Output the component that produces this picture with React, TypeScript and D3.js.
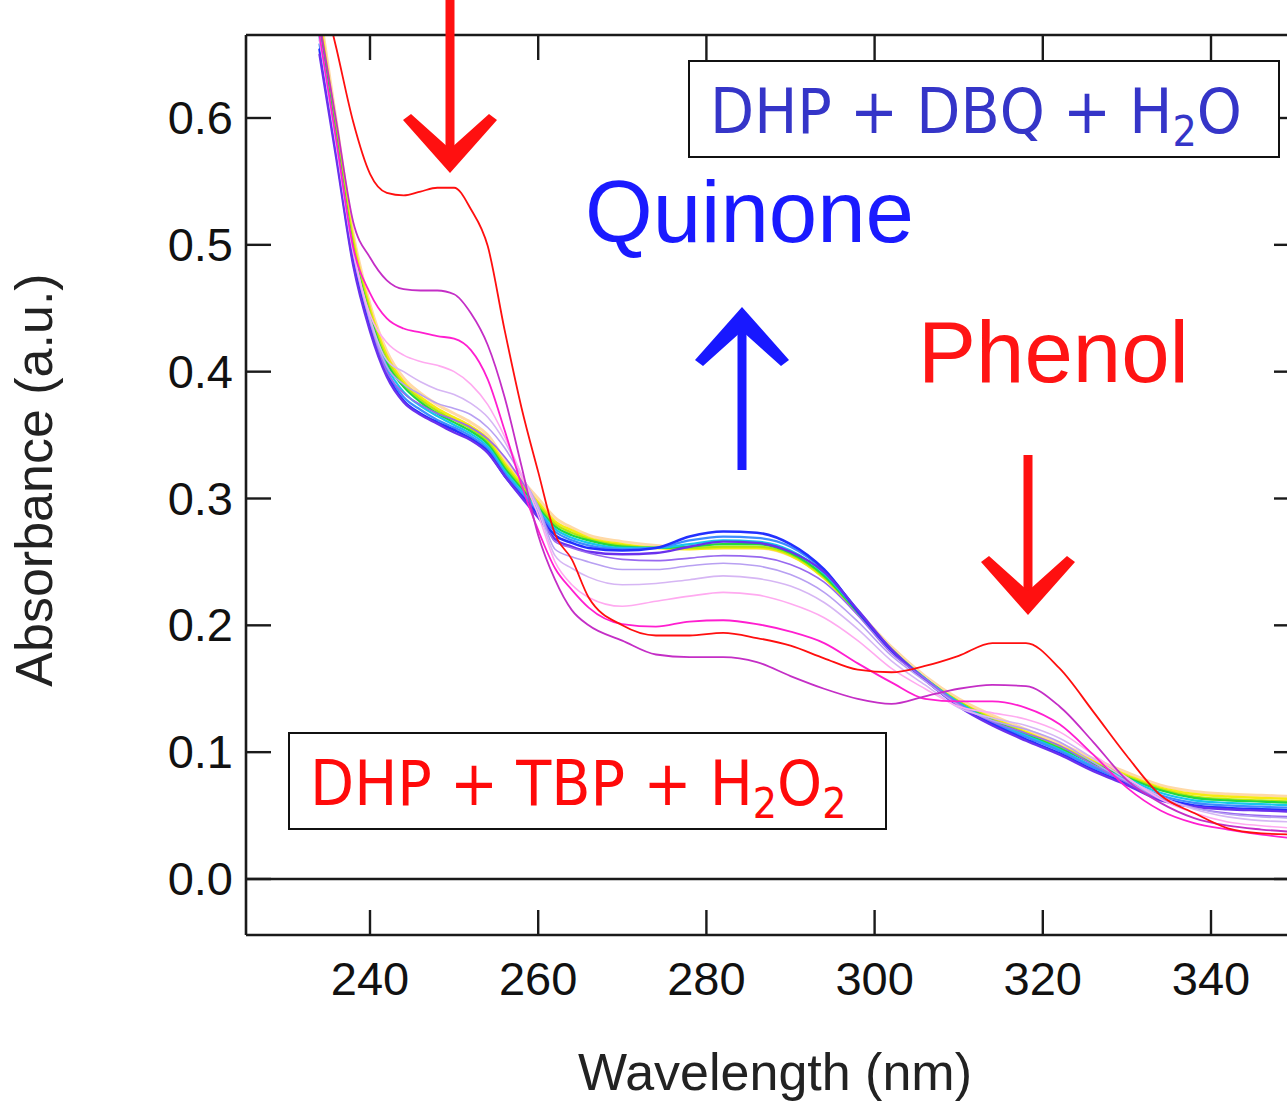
import React from 'react';
import * as d3 from 'd3';

// ---------- DATA ----------
const WAVELENGTHS = [234, 236, 238, 240, 242, 244, 246, 248, 250, 252, 254, 256, 258, 260, 262, 264, 266, 270, 274, 278, 282, 286, 290, 294, 298, 302, 306, 310, 314, 318, 322, 326, 330, 334, 338, 342, 346, 350];

const RED = [0.71, 0.655, 0.597, 0.556, 0.541, 0.539, 0.542, 0.545, 0.545, 0.528, 0.499, 0.433, 0.372, 0.321, 0.272, 0.252, 0.222, 0.200, 0.192, 0.192, 0.194, 0.190, 0.184, 0.174, 0.165, 0.163, 0.168, 0.176, 0.186, 0.186, 0.166, 0.132, 0.097, 0.066, 0.052, 0.040, 0.036, 0.035];
const DARK_MAGENTA = [0.675, 0.597, 0.518, 0.490, 0.472, 0.465, 0.464, 0.464, 0.461, 0.446, 0.421, 0.380, 0.326, 0.271, 0.236, 0.212, 0.200, 0.188, 0.177, 0.175, 0.175, 0.171, 0.160, 0.150, 0.142, 0.138, 0.144, 0.150, 0.153, 0.152, 0.136, 0.108, 0.078, 0.060, 0.048, 0.042, 0.039, 0.037];
const MAGENTA = [0.665, 0.582, 0.498, 0.462, 0.442, 0.434, 0.431, 0.428, 0.426, 0.417, 0.394, 0.354, 0.311, 0.275, 0.245, 0.228, 0.214, 0.201, 0.199, 0.203, 0.204, 0.201, 0.195, 0.186, 0.170, 0.155, 0.142, 0.140, 0.140, 0.135, 0.122, 0.098, 0.072, 0.054, 0.044, 0.039, 0.035, 0.032];
const LIGHT_PINK = [0.664, 0.580, 0.496, 0.445, 0.423, 0.413, 0.408, 0.405, 0.400, 0.390, 0.374, 0.349, 0.319, 0.287, 0.250, 0.232, 0.222, 0.215, 0.219, 0.223, 0.226, 0.224, 0.217, 0.206, 0.188, 0.166, 0.150, 0.136, 0.131, 0.126, 0.116, 0.098, 0.080, 0.063, 0.052, 0.045, 0.042, 0.040];
const LAVENDER = [0.663, 0.579, 0.495, 0.442, 0.409, 0.400, 0.392, 0.386, 0.382, 0.375, 0.364, 0.345, 0.319, 0.291, 0.255, 0.245, 0.238, 0.232, 0.233, 0.236, 0.239, 0.237, 0.231, 0.218, 0.197, 0.172, 0.153, 0.135, 0.127, 0.121, 0.111, 0.095, 0.079, 0.065, 0.055, 0.049, 0.046, 0.045];
const LIGHT_PURPLE = [0.662, 0.578, 0.494, 0.440, 0.404, 0.390, 0.382, 0.375, 0.371, 0.366, 0.356, 0.340, 0.318, 0.294, 0.260, 0.254, 0.250, 0.244, 0.244, 0.247, 0.249, 0.247, 0.240, 0.226, 0.203, 0.176, 0.156, 0.137, 0.125, 0.118, 0.108, 0.092, 0.077, 0.064, 0.056, 0.051, 0.049, 0.048];
const PURPLE = [0.661, 0.577, 0.493, 0.439, 0.400, 0.383, 0.374, 0.367, 0.362, 0.356, 0.347, 0.333, 0.314, 0.292, 0.266, 0.261, 0.257, 0.252, 0.251, 0.253, 0.255, 0.254, 0.248, 0.234, 0.208, 0.178, 0.158, 0.138, 0.124, 0.115, 0.105, 0.090, 0.076, 0.063, 0.056, 0.052, 0.050, 0.049];
const VIOLET = [0.650, 0.568, 0.484, 0.432, 0.396, 0.376, 0.366, 0.359, 0.352, 0.346, 0.336, 0.318, 0.301, 0.285, 0.268, 0.262, 0.258, 0.256, 0.257, 0.262, 0.266, 0.265, 0.258, 0.242, 0.212, 0.181, 0.157, 0.136, 0.121, 0.109, 0.098, 0.085, 0.074, 0.062, 0.057, 0.055, 0.054, 0.053];
const BLUE = [0.654, 0.572, 0.487, 0.435, 0.398, 0.377, 0.367, 0.360, 0.354, 0.347, 0.337, 0.318, 0.302, 0.287, 0.271, 0.265, 0.261, 0.259, 0.261, 0.270, 0.274, 0.273, 0.264, 0.244, 0.211, 0.180, 0.157, 0.137, 0.122, 0.110, 0.099, 0.086, 0.075, 0.064, 0.058, 0.056, 0.055, 0.054];
const LIGHT_BLUE = [0.658, 0.576, 0.491, 0.438, 0.401, 0.380, 0.370, 0.362, 0.356, 0.349, 0.339, 0.320, 0.304, 0.289, 0.274, 0.267, 0.263, 0.260, 0.261, 0.267, 0.270, 0.269, 0.262, 0.243, 0.212, 0.181, 0.158, 0.138, 0.123, 0.112, 0.101, 0.088, 0.077, 0.066, 0.060, 0.058, 0.057, 0.056];
const CYAN = [0.664, 0.580, 0.494, 0.441, 0.404, 0.384, 0.373, 0.365, 0.358, 0.351, 0.341, 0.322, 0.306, 0.291, 0.276, 0.269, 0.265, 0.261, 0.261, 0.264, 0.267, 0.266, 0.259, 0.241, 0.211, 0.181, 0.158, 0.139, 0.124, 0.113, 0.102, 0.089, 0.079, 0.068, 0.062, 0.060, 0.059, 0.058];
const GREEN = [0.670, 0.584, 0.497, 0.444, 0.407, 0.388, 0.376, 0.367, 0.360, 0.353, 0.343, 0.324, 0.308, 0.293, 0.278, 0.271, 0.267, 0.262, 0.261, 0.262, 0.264, 0.264, 0.257, 0.239, 0.210, 0.181, 0.158, 0.139, 0.125, 0.114, 0.103, 0.091, 0.080, 0.070, 0.064, 0.062, 0.061, 0.060];
const YELLOW_GREEN = [0.675, 0.588, 0.501, 0.447, 0.410, 0.390, 0.378, 0.369, 0.362, 0.355, 0.345, 0.326, 0.310, 0.295, 0.280, 0.273, 0.268, 0.263, 0.261, 0.261, 0.262, 0.262, 0.256, 0.238, 0.210, 0.181, 0.158, 0.140, 0.126, 0.115, 0.104, 0.092, 0.081, 0.071, 0.065, 0.063, 0.062, 0.061];
const YELLOW = [0.680, 0.592, 0.505, 0.450, 0.413, 0.392, 0.380, 0.371, 0.364, 0.357, 0.347, 0.328, 0.312, 0.297, 0.282, 0.275, 0.269, 0.264, 0.261, 0.260, 0.261, 0.261, 0.255, 0.237, 0.209, 0.181, 0.158, 0.140, 0.127, 0.116, 0.105, 0.093, 0.082, 0.072, 0.067, 0.065, 0.064, 0.063];
const PEACH = [0.686, 0.597, 0.509, 0.453, 0.416, 0.395, 0.383, 0.374, 0.367, 0.360, 0.350, 0.331, 0.315, 0.300, 0.285, 0.277, 0.271, 0.266, 0.263, 0.261, 0.261, 0.261, 0.255, 0.238, 0.211, 0.183, 0.160, 0.142, 0.129, 0.118, 0.107, 0.095, 0.084, 0.074, 0.069, 0.067, 0.066, 0.065];

// drawing order (later = on top)
const SERIES_VALUES = [PEACH, YELLOW, YELLOW_GREEN, GREEN, CYAN, LIGHT_BLUE, BLUE, VIOLET, PURPLE, LIGHT_PURPLE, LAVENDER, LIGHT_PINK, MAGENTA, DARK_MAGENTA, RED];
const SERIES_COLORS = ['#ffd9a6', '#f6ea10', '#b4e80c', '#22d840', '#16c6ec', '#3c8cff', '#2230ff', '#6a30ee', '#9868f0', '#b8a0f2', '#d6b6f4', '#ffaaf0', '#ff1ed0', '#c42ec6', '#ff0f0f'];
const SERIES_WIDTHS = [3, 2.4, 2.2, 2.2, 2.2, 2.2, 2.6, 2.4, 1.6, 1.6, 1.6, 1.6, 1.8, 1.8, 1.8];

const X_TICKS = [240, 260, 280, 300, 320, 340];
const Y_TICKS = [0.0, 0.1, 0.2, 0.3, 0.4, 0.5, 0.6];

// ---------- LAYOUT ----------
const W = 1287;
const H = 1101;
const PL = 246, PR = 1299, PT = 35, PB = 935;

const x = d3.scaleLinear().domain([240, 340]).range([370, 1211]);
const y = d3.scaleLinear().domain([0, 0.6]).range([879, 118]);

const line = d3.line<number>()
  .x((_, i) => x(WAVELENGTHS[i]))
  .y((d) => y(d))
  .curve(d3.curveMonotoneX);

const FONT = "'Liberation Sans', Arial, Helvetica, sans-serif";
const BOXFONT = "'DejaVu Sans', Verdana, sans-serif";
const AX = '#1a1a1a';

function DownArrow({ cx, top, tip, color }: { cx: number; top: number; tip: number; color: string }) {
  const head = [[0, 0], [-47, -53], [-39, -59], [0, -24], [39, -59], [47, -53]]
    .map(([dx, dy]) => `${cx + dx},${tip + dy}`).join(' ');
  return (
    <g>
      <line x1={cx} x2={cx} y1={top} y2={tip - 20} stroke={color} strokeWidth={9} />
      <polygon points={head} fill={color} />
    </g>
  );
}

function UpArrow({ cx, bottom, tip, color }: { cx: number; bottom: number; tip: number; color: string }) {
  const head = [[0, 0], [-47, 53], [-39, 59], [0, 24], [39, 59], [47, 53]]
    .map(([dx, dy]) => `${cx + dx},${tip + dy}`).join(' ');
  return (
    <g>
      <line x1={cx} x2={cx} y1={bottom} y2={tip + 20} stroke={color} strokeWidth={9} />
      <polygon points={head} fill={color} />
    </g>
  );
}

export default function App() {
  return (
    <svg width={W} height={H} style={{ position: 'absolute', left: 0, top: 0, background: '#fff' }}>
      <defs>
        <clipPath id="plotClip">
          <rect x={PL} y={PT} width={PR - PL} height={PB - PT} />
        </clipPath>
      </defs>
      <rect x={0} y={0} width={W} height={H} fill="#fff" />

      {/* zero line */}
      <line x1={PL} x2={PR} y1={y(0)} y2={y(0)} stroke={AX} strokeWidth={2.4} />

      {/* curves */}
      <g clipPath="url(#plotClip)" fill="none" strokeLinejoin="round" strokeLinecap="round">
        {SERIES_VALUES.map((vals, i) => (
          <path key={i} d={line(vals) || ''} stroke={SERIES_COLORS[i]} strokeWidth={SERIES_WIDTHS[i]} />
        ))}
      </g>

      {/* frame */}
      <line x1={PL} x2={PL} y1={PT} y2={PB} stroke={AX} strokeWidth={2.6} />
      <line x1={PL} x2={PR} y1={PB} y2={PB} stroke={AX} strokeWidth={2.6} />
      <line x1={PL} x2={PR} y1={PT} y2={PT} stroke={AX} strokeWidth={2.6} />
      <line x1={PR} x2={PR} y1={PT} y2={PB} stroke={AX} strokeWidth={2.6} />

      {/* x ticks */}
      {X_TICKS.map((t) => (
        <g key={'x' + t}>
          <line x1={x(t)} x2={x(t)} y1={PB} y2={PB - 25} stroke={AX} strokeWidth={2.4} />
          <line x1={x(t)} x2={x(t)} y1={PT} y2={PT + 25} stroke={AX} strokeWidth={2.4} />
          <text x={x(t)} y={995} textAnchor="middle" fontFamily={FONT} fontSize={47} fill="#111">{t}</text>
        </g>
      ))}

      {/* y ticks */}
      {Y_TICKS.map((t) => (
        <g key={'y' + t}>
          <line x1={PL} x2={PL + 25} y1={y(t)} y2={y(t)} stroke={AX} strokeWidth={2.4} />
          <line x1={PR} x2={PR - 25} y1={y(t)} y2={y(t)} stroke={AX} strokeWidth={2.4} />
          <text x={233} y={y(t) + 16} textAnchor="end" fontFamily={FONT} fontSize={47} fill="#111">{t.toFixed(1)}</text>
        </g>
      ))}

      {/* axis titles */}
      <text x={775} y={1090} textAnchor="middle" fontFamily={FONT} fontSize={52} fill="#222">Wavelength (nm)</text>
      <text transform="translate(52,480) rotate(-90)" textAnchor="middle" fontFamily={FONT} fontSize={52} fill="#222">Absorbance (a.u.)</text>

      {/* arrows */}
      <DownArrow cx={450} top={0} tip={173} color="#ff1010" />
      <DownArrow cx={1028} top={455} tip={615} color="#ff1010" />
      <UpArrow cx={742} bottom={470} tip={307} color="#1818ff" />

      {/* labels */}
      <text x={585} y={242} fontFamily={FONT} fontSize={87} fill="#1a1aff">Quinone</text>
      <text x={918} y={382} fontFamily={FONT} fontSize={87} fill="#ff1414">Phenol</text>

      {/* boxes */}
      <rect x={689} y={61} width={590} height={96} fill="#fff" stroke="#111" strokeWidth={2} />
      <text transform="translate(710,133) scale(0.91,1)" fontFamily={BOXFONT} fontSize={63} fill="#3535c8">
        DHP + DBQ + H<tspan fontSize={42} dy={13}>2</tspan><tspan dy={-13}>O</tspan>
      </text>

      <rect x={289} y={733} width={597} height={96} fill="#fff" stroke="#111" strokeWidth={2} />
      <text transform="translate(310,805) scale(0.91,1)" fontFamily={BOXFONT} fontSize={63} fill="#ff0a0a">
        DHP + TBP + H<tspan fontSize={42} dy={13}>2</tspan><tspan dy={-13}>O</tspan><tspan fontSize={42} dy={13}>2</tspan>
      </text>
    </svg>
  );
}
